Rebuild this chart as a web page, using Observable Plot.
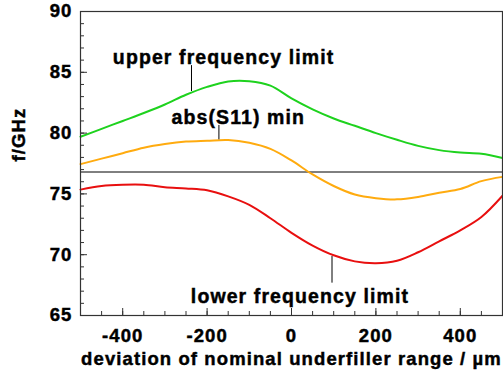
<!DOCTYPE html>
<html>
<head>
<meta charset="utf-8">
<script src="https://cdn.jsdelivr.net/npm/d3@7"></script>
<script src="https://cdn.jsdelivr.net/npm/@observablehq/plot@0.6"></script>
<style>
  html, body { margin: 0; padding: 0; background: #fff; }
  #chart svg text { font-weight: bold !important; font-family: 'Liberation Sans', Arial, Helvetica, sans-serif; fill: #000; stroke: #000; stroke-width: 0.45px; }
</style>
</head>
<body>
<div id="chart"></div>
<script>
// Deviation of nominal underfiller range (µm)
const xs = [-500,-450,-400,-350,-300,-250,-200,-150,-100,-50,0,50,100,150,200,250,300,350,400,450,500];
// upper frequency limit (GHz)
const upper = [79.7,80.35,81.0,81.65,82.35,83.15,83.8,84.25,84.27,83.9,82.85,81.95,81.2,80.6,80.0,79.45,78.95,78.6,78.4,78.3,77.95];
// abs(S11) min (GHz)
const s11min = [77.45,77.9,78.35,78.8,79.1,79.3,79.37,79.43,79.2,78.7,77.75,76.6,75.65,74.95,74.65,74.55,74.75,75.1,75.4,76.05,76.4];
// lower frequency limit (GHz)
const lower = [75.35,75.65,75.75,75.75,75.55,75.45,75.3,74.8,74.1,73.0,71.8,70.75,69.95,69.45,69.3,69.5,70.2,71.1,72.0,73.1,74.85];
// reference frequency line
const refLine = [76.8];

const xTicks = [-400,-200,0,200,400];
const yTicks = [65,70,75,80,85,90];
const xMinor = d3.range(-450, 500, 50);
const yMinor = d3.range(66, 90, 1);

const labelText = ["upper frequency limit", "abs(S11) min", "lower frequency limit"];
const labelX = [-161, -126, 20];
const labelY = [86.23, 81.29, 66.57];
const leaderX = [-237, -172, 96];
const leaderY1 = [85.55, 80.63, 69.85];
const leaderY2 = [83.42, 79.45, 67.66];

const xTitle = "deviation of nominal underfiller range / µm";
const yTitle = "f/GHz";

const series = [
  {name: "upper", values: upper, color: "#1ed21e"},
  {name: "s11", values: s11min, color: "#ffab0f"},
  {name: "lower", values: lower, color: "#e80f0f"}
];
const rows = series.flatMap(s => xs.map((x, i) => ({x, y: s.values[i], name: s.name})));
const labels = labelText.map((t, i) => ({t, x: labelX[i], y: labelY[i]}));
const leaders = leaderX.map((x, i) => ({x, y1: leaderY1[i], y2: leaderY2[i]}));

const W = 503, H = 382;
const mL = 80, mR = 1, mT = 11, mB = 67;
const plotW = W - mL - mR, plotH = H - mT - mB;

const chart = Plot.plot({
  width: W, height: H,
  marginLeft: mL, marginRight: mR, marginTop: mT, marginBottom: mB,
  x: {domain: [-500, 500]},
  y: {domain: [65, 90]},
  style: {fontFamily: "'Liberation Sans', Arial, Helvetica, sans-serif", fontWeight: "bold", fontSize: "18.5px", letterSpacing: "1.1px", color: "#000", background: "#fff"},
  marks: [
    Plot.ruleY(refLine, {stroke: "#000", strokeWidth: 1}),
    Plot.line(rows, {x: "x", y: "y", z: "name", stroke: d => series.find(s => s.name === d.name).color, strokeWidth: 2, curve: "catmull-rom"}),
    Plot.ruleX(leaders, {x: "x", y1: "y1", y2: "y2", stroke: "#000", strokeWidth: 1}),
    Plot.text(labels, {x: "x", y: "y", text: "t", fontSize: 19.5, fontWeight: "bold", fill: "#000"}),
    Plot.tickX(xMinor, {x: d => d, insetTop: plotH - 4, stroke: "#333"}),
    Plot.tickX(xTicks, {x: d => d, insetTop: plotH - 7, stroke: "#333"}),
    Plot.tickY(yMinor, {y: d => d, insetRight: plotW - 4, stroke: "#333"}),
    Plot.tickY(yTicks, {y: d => d, insetRight: plotW - 7, stroke: "#333"}),
    Plot.frame({stroke: "#333", strokeWidth: 1.2}),
    Plot.axisX(xTicks, {tickSize: 0, tickPadding: 13.6, label: null, tickFormat: d => String(d), fontSize: 18.5, fontWeight: "bold", fill: "#000"}),
    Plot.axisY(yTicks, {tickSize: 0, tickPadding: 8, label: null, tickFormat: d => String(d), fontSize: 18.5, fontWeight: "bold", fill: "#000"}),
    Plot.text([xTitle], {text: d => d, frameAnchor: "bottom", dy: 49, fontSize: 18.5, fontWeight: "bold"}),
    Plot.text([yTitle], {text: d => d, frameAnchor: "left", dx: -61, dy: -2, rotate: -90, fontSize: 18.5, fontWeight: "bold"})
  ]
});
document.getElementById("chart").appendChild(chart);
</script>
</body>
</html>
